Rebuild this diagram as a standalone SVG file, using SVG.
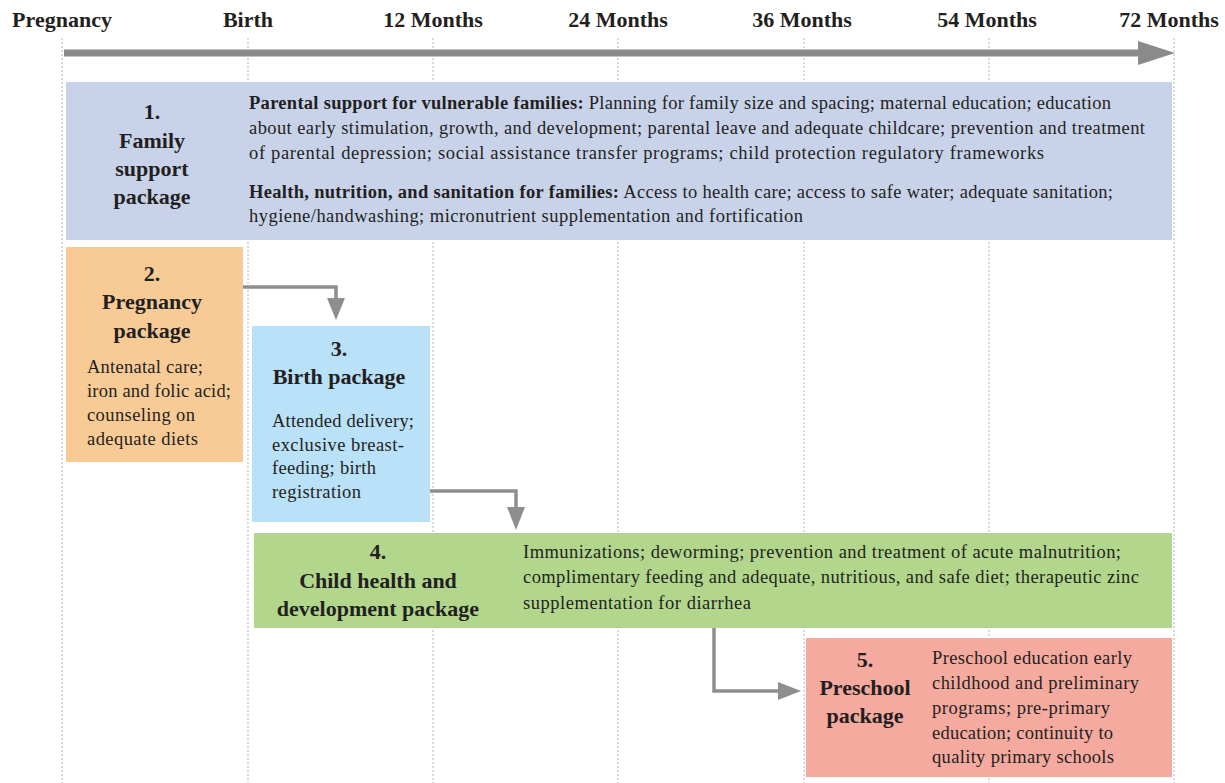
<svg xmlns="http://www.w3.org/2000/svg" width="1225" height="783" viewBox="0 0 1225 783">
<style>
  .hdr{font-family:"Liberation Serif","Times New Roman",serif;font-weight:bold;font-size:22px;fill:#231f20;text-anchor:middle}
  .ttl{font-family:"Liberation Serif","Times New Roman",serif;font-weight:bold;font-size:22px;fill:#231f20;text-anchor:middle}
  .bd{font-family:"Liberation Serif","Times New Roman",serif;font-size:18.5px;fill:#231f20}
  .b{font-weight:bold}
  .grid{stroke:#b5b5b5;stroke-width:1;stroke-dasharray:2,2;fill:none}
  .conn{stroke:#8e8e8e;stroke-width:3.5;fill:none}
  .head{fill:#8e8e8e}
</style>
<rect width="1225" height="783" fill="#ffffff"/>
<g id="grid">
  <line class="grid" x1="62" y1="38" x2="62" y2="783"/>
  <line class="grid" x1="248" y1="38" x2="248" y2="783"/>
  <line class="grid" x1="433" y1="38" x2="433" y2="783"/>
  <line class="grid" x1="618" y1="38" x2="618" y2="783"/>
  <line class="grid" x1="804" y1="38" x2="804" y2="783"/>
  <line class="grid" x1="989" y1="38" x2="989" y2="783"/>
  <line class="grid" x1="1174" y1="38" x2="1174" y2="783"/>
</g>
<g id="header">
  <text class="hdr" x="62" y="27">Pregnancy</text>
  <text class="hdr" x="248" y="27">Birth</text>
  <text class="hdr" x="433" y="27">12 Months</text>
  <text class="hdr" x="618" y="27">24 Months</text>
  <text class="hdr" x="802" y="27">36 Months</text>
  <text class="hdr" x="987" y="27">54 Months</text>
  <text class="hdr" x="1169" y="27">72 Months</text>
</g>
<g id="timeline">
  <line x1="64" y1="53" x2="1142" y2="53" stroke="#8a8a8a" stroke-width="7"/>
  <polygon points="1138,41 1175,53 1138,65" fill="#8a8a8a"/>
</g>
<g id="node1">
  <rect x="66" y="82" width="1106" height="158" fill="#c8d3ea"/>
  <text class="ttl" x="152" y="119">1.</text>
  <text class="ttl" x="152" y="148">Family</text>
  <text class="ttl" x="152" y="176">support</text>
  <text class="ttl" x="152" y="204">package</text>
  <text class="bd" x="249" y="109" textLength="862" lengthAdjust="spacing"><tspan class="b">Parental support for vulnerable families:</tspan> Planning for family size and spacing; maternal education; education</text>
  <text class="bd" x="249" y="134" textLength="896" lengthAdjust="spacing">about early stimulation, growth, and development; parental leave and adequate childcare; prevention and treatment</text>
  <text class="bd" x="249" y="159" textLength="795" lengthAdjust="spacing">of parental depression; social assistance transfer programs; child protection regulatory frameworks</text>
  <text class="bd" x="249" y="198" textLength="864" lengthAdjust="spacing"><tspan class="b">Health, nutrition, and sanitation for families:</tspan> Access to health care; access to safe water; adequate sanitation;</text>
  <text class="bd" x="249" y="222" textLength="554" lengthAdjust="spacing">hygiene/handwashing; micronutrient supplementation and fortification</text>
</g>
<g id="node2">
  <rect x="66" y="247" width="177" height="215" fill="#f8cb96"/>
  <text class="ttl" x="152" y="281">2.</text>
  <text class="ttl" x="152" y="309">Pregnancy</text>
  <text class="ttl" x="152" y="338">package</text>
  <text class="bd" x="87" y="373" textLength="116" lengthAdjust="spacing">Antenatal care;</text>
  <text class="bd" x="87" y="397" textLength="144" lengthAdjust="spacing">iron and folic acid;</text>
  <text class="bd" x="87" y="421" textLength="108" lengthAdjust="spacing">counseling on</text>
  <text class="bd" x="87" y="445" textLength="111" lengthAdjust="spacing">adequate diets</text>
</g>
<g id="node3">
  <rect x="252" y="326" width="178" height="196" fill="#b9e1f8"/>
  <text class="ttl" x="339" y="356">3.</text>
  <text class="ttl" x="339" y="384">Birth package</text>
  <text class="bd" x="272" y="427" textLength="142" lengthAdjust="spacing">Attended delivery;</text>
  <text class="bd" x="272" y="451" textLength="132" lengthAdjust="spacing">exclusive breast-</text>
  <text class="bd" x="272" y="474" textLength="104" lengthAdjust="spacing">feeding; birth</text>
  <text class="bd" x="272" y="498" textLength="89" lengthAdjust="spacing">registration</text>
</g>
<g id="node4">
  <rect x="254" y="533" width="918" height="95" fill="#b2d78c"/>
  <text class="ttl" x="378" y="559">4.</text>
  <text class="ttl" x="378" y="588">Child health and</text>
  <text class="ttl" x="378" y="616">development package</text>
  <text class="bd" x="523" y="558" textLength="598" lengthAdjust="spacing">Immunizations; deworming; prevention and treatment of acute malnutrition;</text>
  <text class="bd" x="523" y="583" textLength="616" lengthAdjust="spacing">complimentary feeding and adequate, nutritious, and safe diet; therapeutic zinc</text>
  <text class="bd" x="523" y="609" textLength="228" lengthAdjust="spacing">supplementation for diarrhea</text>
</g>
<g id="node5">
  <rect x="806" y="638" width="366" height="139" fill="#f5aa9f"/>
  <text class="ttl" x="865" y="667">5.</text>
  <text class="ttl" x="865" y="695">Preschool</text>
  <text class="ttl" x="865" y="723">package</text>
  <text class="bd" x="932" y="664" textLength="200" lengthAdjust="spacing">Preschool education early</text>
  <text class="bd" x="932" y="689" textLength="207" lengthAdjust="spacing">childhood and preliminary</text>
  <text class="bd" x="932" y="714" textLength="178" lengthAdjust="spacing">programs; pre-primary</text>
  <text class="bd" x="932" y="739" textLength="181" lengthAdjust="spacing">education; continuity to</text>
  <text class="bd" x="932" y="763" textLength="182" lengthAdjust="spacing">quality primary schools</text>
</g>
<g id="connectors">
  <path class="conn" d="M243,287 H336 V300"/>
  <polygon class="head" points="327,298 345,298 336,320"/>
  <path class="conn" d="M430,491 H516 V509"/>
  <polygon class="head" points="507,507 525,507 516,530"/>
  <path class="conn" d="M714,628 V691 H780"/>
  <polygon class="head" points="778,682 778,700 801,691"/>
</g>
</svg>
